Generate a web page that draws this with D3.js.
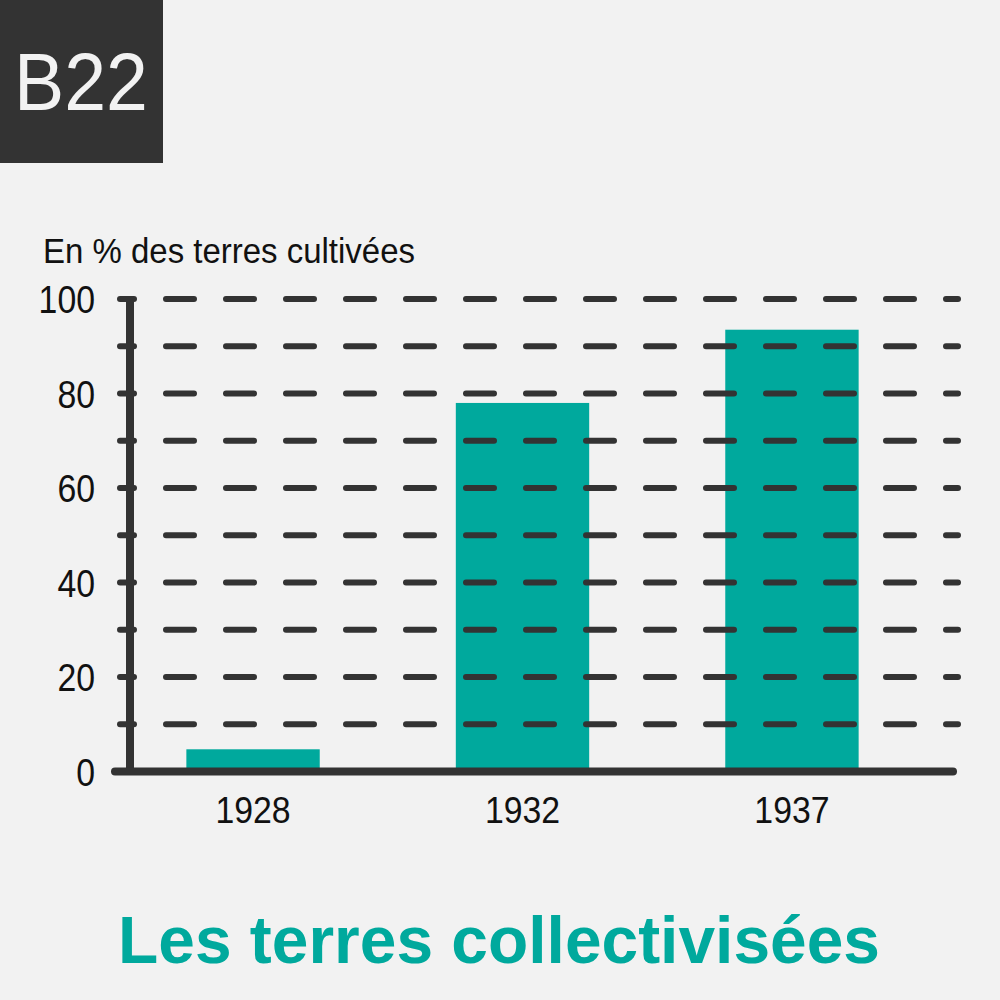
<!DOCTYPE html>
<html>
<head>
<meta charset="utf-8">
<script src="https://cdn.jsdelivr.net/npm/d3@7"></script>
<style>
  html, body { margin: 0; padding: 0; background: #f2f2f2; }
  svg { display: block; }
</style>
</head>
<body>
<svg id="graphique"></svg>
<script>
// donnees
const annees = ["1928", "1932", "1937"];
const valeurs = [4.7, 78, 93.5];
const etiquettesY = [0, 20, 40, 60, 80, 100];
const lignesGrille = [10, 20, 30, 40, 50, 60, 70, 80, 90, 100];

const titre = "Les terres collectivisées";
const uniteY = "En % des terres cultivées";
const code = "B22";

const sans = "'Liberation Sans', Arial, Helvetica, sans-serif";
const sombre = "#333333";
const turquoise = "#00a99d";

let svg = d3.select("#graphique")
    .attr("width", 1000)
    .attr("height", 1000);

svg.append("rect")
    .attr("width", 1000)
    .attr("height", 1000)
    .attr("fill", "#f2f2f2");

// pastille B22
svg.append("rect")
    .attr("x", 0)
    .attr("y", 0)
    .attr("width", 163)
    .attr("height", 163)
    .attr("fill", sombre);

svg.append("text")
    .attr("x", 81)
    .attr("y", 110)
    .attr("text-anchor", "middle")
    .attr("font-family", sans)
    .attr("font-size", 82)
    .attr("fill", "#f2f2f2")
    .attr("textLength", 134)
    .attr("lengthAdjust", "spacingAndGlyphs")
    .text(code);

let fnX = d3.scaleBand()
    .domain(annees)
    .range([119, 926])
    .paddingInner(0.505)
    .paddingOuter(0.25);

let fnY = d3.scaleLinear()
    .domain([0, 100])
    .range([771.5, 299]);

// barres
svg.selectAll(".barre")
    .data(annees)
    .enter()
    .append("rect")
    .classed("barre", true)
    .attr("x", d => fnX(d))
    .attr("y", (d, i) => fnY(valeurs[i]))
    .attr("width", fnX.bandwidth())
    .attr("height", (d, i) => fnY(0) - fnY(valeurs[i]))
    .attr("fill", turquoise);

// grille en tirets par-dessus les barres
svg.selectAll(".grille")
    .data(lignesGrille)
    .enter()
    .append("line")
    .classed("grille", true)
    .attr("x1", 166)
    .attr("x2", 958)
    .attr("y1", d => fnY(d))
    .attr("y2", d => fnY(d))
    .attr("stroke", sombre)
    .attr("stroke-width", 6)
    .attr("stroke-linecap", "round")
    .attr("stroke-dasharray", "28,32");

// petites graduations sur l'axe
svg.selectAll(".graduation")
    .data(lignesGrille)
    .enter()
    .append("line")
    .classed("graduation", true)
    .attr("x1", 120)
    .attr("x2", 134)
    .attr("y1", d => fnY(d))
    .attr("y2", d => fnY(d))
    .attr("stroke", sombre)
    .attr("stroke-width", 6)
    .attr("stroke-linecap", "round");

// axe vertical
svg.append("line")
    .attr("x1", 130)
    .attr("x2", 130)
    .attr("y1", fnY(100))
    .attr("y2", fnY(0))
    .attr("stroke", sombre)
    .attr("stroke-width", 8);

// axe horizontal
svg.append("line")
    .attr("x1", 115)
    .attr("x2", 953)
    .attr("y1", fnY(0))
    .attr("y2", fnY(0))
    .attr("stroke", sombre)
    .attr("stroke-width", 8)
    .attr("stroke-linecap", "round");

// etiquettes Y (police etroite simulee)
svg.selectAll(".etiquetteY")
    .data(etiquettesY)
    .enter()
    .append("text")
    .classed("etiquetteY", true)
    .attr("x", 95)
    .attr("y", d => fnY(d) + 14)
    .attr("text-anchor", "end")
    .attr("font-family", sans)
    .attr("font-size", 38)
    .attr("fill", "#111")
    .attr("textLength", d => String(d).length * 18.8)
    .attr("lengthAdjust", "spacingAndGlyphs")
    .text(d => d);

// etiquettes X
svg.selectAll(".etiquetteX")
    .data(annees)
    .enter()
    .append("text")
    .classed("etiquetteX", true)
    .attr("x", d => fnX(d) + fnX.bandwidth() / 2)
    .attr("y", 823)
    .attr("text-anchor", "middle")
    .attr("font-family", sans)
    .attr("font-size", 36)
    .attr("fill", "#111")
    .attr("textLength", d => d.length * 18.8)
    .attr("lengthAdjust", "spacingAndGlyphs")
    .text(d => d);

// unite
svg.append("text")
    .attr("x", 43)
    .attr("y", 263)
    .attr("font-family", sans)
    .attr("font-size", 35)
    .attr("fill", "#111")
    .attr("textLength", 372)
    .attr("lengthAdjust", "spacingAndGlyphs")
    .text(uniteY);

// titre
svg.append("text")
    .attr("x", 118)
    .attr("y", 963)
    .attr("font-family", sans)
    .attr("font-weight", "bold")
    .attr("font-size", 67)
    .attr("fill", turquoise)
    .attr("textLength", 762)
    .attr("lengthAdjust", "spacingAndGlyphs")
    .text(titre);
</script>
</body>
</html>
